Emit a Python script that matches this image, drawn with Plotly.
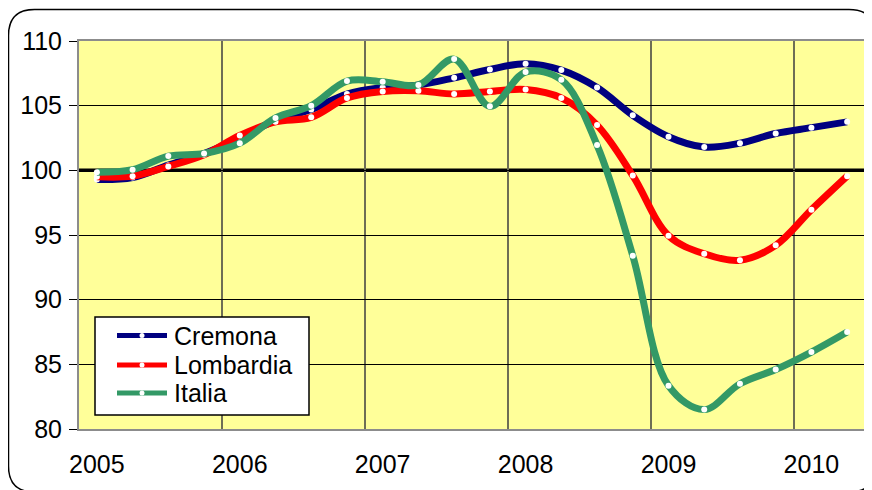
import plotly.graph_objects as go

# ---------------- data ----------------
quarters = [f"{y}Q{q}" for y in range(2005, 2011) for q in range(1, 5)][:22]
x_index = list(range(len(quarters)))

cremona = [99.3, 99.45, 100.4, 101.3, 102.5, 103.85, 104.7, 105.9, 106.4, 106.6, 107.15,
           107.8, 108.25, 107.75, 106.4, 104.25, 102.6, 101.8, 102.1, 102.85, 103.3, 103.75]
lombardia = [99.5, 99.55, 100.3, 101.2, 102.7, 103.75, 104.1, 105.6, 106.1, 106.15, 105.9,
             106.1, 106.25, 105.6, 103.5, 99.6, 94.95, 93.55, 93.05, 94.2, 96.95, 99.55]
italia = [99.85, 100.05, 101.1, 101.3, 102.1, 104.05, 105.0, 106.9, 106.85, 106.6, 108.6,
          104.95, 107.6, 107.0, 101.95, 93.4, 83.35, 81.5, 83.5, 84.6, 85.95, 87.5]

year_tick_pos = [0, 4, 8, 12, 16, 20]
year_labels = ["2005", "2006", "2007", "2008", "2009", "2010"]
y_ticks = [80, 85, 90, 95, 100, 105, 110]
BASELINE = 100

series_names = ["Cremona", "Lombardia", "Italia"]
series_values = [cremona, lombardia, italia]
series_colors = ["#000080", "#FF0000", "#339966"]

FONT = "Liberation Sans, Arial, sans-serif"
FS = 25

fig = go.Figure()
for name, vals, col in zip(series_names, series_values, series_colors):
    fig.add_trace(go.Scatter(
        x=x_index, y=vals, name=name, mode="lines+markers",
        line=dict(color=col, width=7, shape="spline", smoothing=1),
        marker=dict(color="white", size=6, line=dict(width=0)),
        customdata=quarters, showlegend=False,
        hovertemplate="%{customdata}: %{y}<extra>" + name + "</extra>",
    ))

# page offset (body margin) and plot area geometry, figure pixels
OFF = 8
W, H = 864, 482
L, R, T, B = 71, 7, 33, 61
pw, ph = W - L - R, H - T - B


def px(sx):
    """screen x pixel -> paper x"""
    return (sx - OFF - L) / pw


def py(sy):
    """screen y pixel -> paper y"""
    return (H - B - (sy - OFF)) / ph


# outer rounded frame
x0, x1, y0, y1, r = 8.5, 875, 9.5, 492, 26
path = (
    f"M{px(x0 + r)},{py(y0)} L{px(x1 - r)},{py(y0)} "
    f"Q{px(x1)},{py(y0)} {px(x1)},{py(y0 + r)} "
    f"L{px(x1)},{py(y1 - r)} Q{px(x1)},{py(y1)} {px(x1 - r)},{py(y1)} "
    f"L{px(x0 + r)},{py(y1)} Q{px(x0)},{py(y1)} {px(x0)},{py(y1 - r)} "
    f"L{px(x0)},{py(y0 + r)} Q{px(x0)},{py(y0)} {px(x0 + r)},{py(y0)} Z"
)

shapes = [
    dict(type="line", xref="paper", yref="y", x0=0, x1=1,
         y0=BASELINE, y1=BASELINE, line=dict(color="black", width=3.5),
         layer="between"),
    dict(type="path", xref="paper", yref="paper", path=path,
         line=dict(color="black", width=1.5), layer="below"),
]
annotations = []

# legend box (drawn as a keyed box)
lg_x0, lg_x1, lg_y0, lg_y1 = 95, 309, 317, 415
shapes.append(dict(type="rect", xref="paper", yref="paper",
                   x0=px(lg_x0), x1=px(lg_x1), y0=py(lg_y1), y1=py(lg_y0),
                   fillcolor="white", line=dict(color="black", width=1.5),
                   layer="above"))
row_y = [335.5, 365, 393]
for name, col, ry in zip(series_names, series_colors, row_y):
    shapes.append(dict(type="line", xref="paper", yref="paper",
                       x0=px(117), x1=px(167), y0=py(ry), y1=py(ry),
                       line=dict(color=col, width=5), layer="above"))
    shapes.append(dict(type="circle", xref="paper", yref="paper",
                       x0=px(139.5), x1=px(144.5), y0=py(ry + 2.5), y1=py(ry - 2.5),
                       fillcolor="white", line=dict(width=0), layer="above"))
    annotations.append(dict(xref="paper", yref="paper", x=px(172), y=py(ry),
                            xanchor="left", yanchor="middle", showarrow=False,
                            text=name, font=dict(family=FONT, size=FS, color="black")))

fig.update_layout(
    width=W, height=H, autosize=False,
    margin=dict(l=L, r=R, t=T, b=B),
    paper_bgcolor="white",
    plot_bgcolor="#FFFF99",
    font=dict(family=FONT, size=FS, color="black"),
    showlegend=False,
    xaxis=dict(
        range=[-0.5, len(quarters) - 0.5],
        tickmode="array", tickvals=year_tick_pos, ticktext=year_labels,
        ticks="", showgrid=False, zeroline=False, automargin=False,
        showline=True, linecolor="#8c8c8c", linewidth=2, mirror=True,
        tickfont=dict(size=FS, family=FONT, color="black"),
        ticklabelstandoff=12,
        minor=dict(tickmode="linear", tick0=3.5, dtick=4, showgrid=True,
                   gridcolor="#6e6e55", gridwidth=1.5, ticks=""),
    ),
    yaxis=dict(
        range=[80, 110], tickmode="array", tickvals=y_ticks,
        ticks="outside", ticklen=8, tickcolor="black", tickwidth=1,
        showgrid=True, gridcolor="black", gridwidth=1, zeroline=False,
        showline=True, linecolor="#8c8c8c", linewidth=2, mirror=True,
        automargin=False,
        tickfont=dict(size=FS, family=FONT, color="black"),
        ticklabelstandoff=2,
    ),
    shapes=shapes,
    annotations=annotations,
)

fig.write_html("out.html")
